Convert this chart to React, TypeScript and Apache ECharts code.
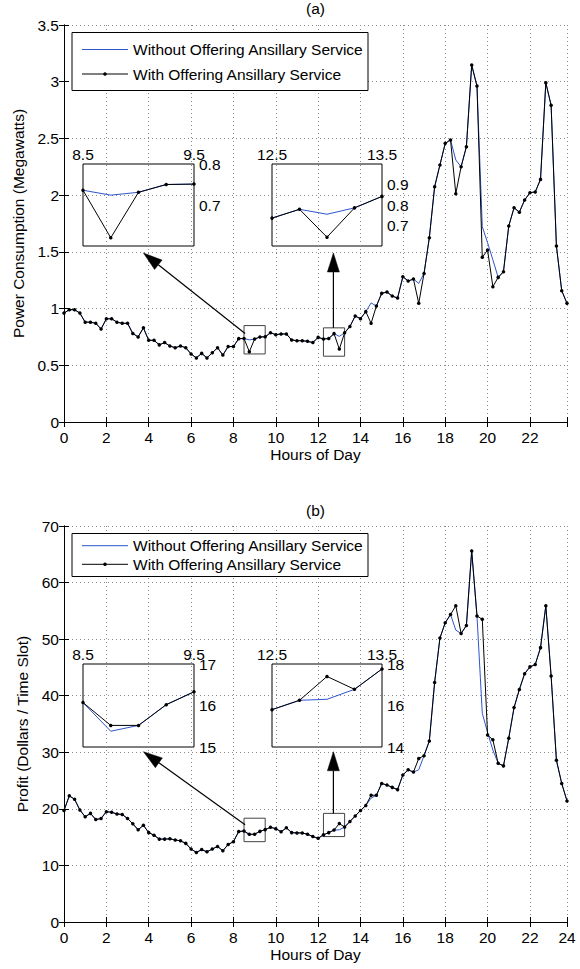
import React, { useEffect, useRef } from "react";
import * as echarts from "echarts";

// ---------------- data ----------------
const HOURS = [
  0, 0.25, 0.5, 0.75, 1, 1.25, 1.5, 1.75, 2, 2.25, 2.5, 2.75,
  3, 3.25, 3.5, 3.75, 4, 4.25, 4.5, 4.75, 5, 5.25, 5.5, 5.75,
  6, 6.25, 6.5, 6.75, 7, 7.25, 7.5, 7.75, 8, 8.25, 8.5, 8.75,
  9, 9.25, 9.5, 9.75, 10, 10.25, 10.5, 10.75, 11, 11.25, 11.5, 11.75,
  12, 12.25, 12.5, 12.75, 13, 13.25, 13.5, 13.75, 14, 14.25, 14.5, 14.75,
  15, 15.25, 15.5, 15.75, 16, 16.25, 16.5, 16.75, 17, 17.25, 17.5, 17.75,
  18, 18.25, 18.5, 18.75, 19, 19.25, 19.5, 19.75, 20, 20.25, 20.5, 20.75,
  21, 21.25, 21.5, 21.75, 22, 22.25, 22.5, 22.75, 23, 23.25, 23.5, 23.75,
];

const POWER_WITH = [
  0.96, 0.99, 0.99, 0.96, 0.88, 0.88, 0.87, 0.82, 0.91, 0.91, 0.88, 0.87,
  0.87, 0.78, 0.75, 0.83, 0.72, 0.72, 0.68, 0.70, 0.67, 0.655, 0.67, 0.655,
  0.60, 0.565, 0.605, 0.565, 0.61, 0.655, 0.59, 0.665, 0.665, 0.735, 0.736, 0.62,
  0.731, 0.75, 0.751, 0.787, 0.77, 0.776, 0.776, 0.723, 0.717, 0.717, 0.711, 0.70,
  0.746, 0.732, 0.736, 0.779, 0.643, 0.786, 0.842, 0.934, 0.911, 0.973, 0.87, 1.022,
  1.134, 1.146, 1.11, 1.093, 1.281, 1.243, 1.26, 1.046, 1.31, 1.625, 2.074, 2.266,
  2.457, 2.487, 2.013, 2.25, 2.427, 3.147, 2.962, 1.452, 1.516, 1.193, 1.275, 1.325,
  1.728, 1.889, 1.85, 1.957, 2.022, 2.028, 2.139, 2.991, 2.792, 1.552, 1.158, 1.046,
];

const POWER_WITHOUT = [
  0.96, 0.99, 0.99, 0.96, 0.88, 0.88, 0.87, 0.82, 0.91, 0.91, 0.88, 0.87,
  0.87, 0.78, 0.75, 0.83, 0.72, 0.72, 0.68, 0.70, 0.67, 0.655, 0.67, 0.655,
  0.60, 0.565, 0.605, 0.565, 0.61, 0.655, 0.59, 0.665, 0.665, 0.735, 0.736, 0.724,
  0.731, 0.75, 0.751, 0.787, 0.77, 0.776, 0.776, 0.723, 0.717, 0.717, 0.711, 0.70,
  0.746, 0.732, 0.736, 0.779, 0.755, 0.786, 0.842, 0.934, 0.911, 0.973, 1.05, 1.022,
  1.134, 1.146, 1.11, 1.093, 1.281, 1.243, 1.26, 1.222, 1.31, 1.625, 2.074, 2.266,
  2.457, 2.487, 2.31, 2.25, 2.427, 3.147, 2.962, 1.722, 1.58, 1.43, 1.275, 1.325,
  1.728, 1.889, 1.85, 1.957, 2.022, 2.028, 2.139, 2.991, 2.792, 1.552, 1.158, 1.046,
];

const PROFIT_WITH = [
  19.7, 22.3, 21.7, 19.8, 18.6, 19.2, 18.1, 18.3, 19.5, 19.4, 19.1, 19.0,
  18.3, 17.35, 16.3, 17.1, 15.8, 15.35, 14.65, 14.65, 14.7, 14.5, 14.35, 13.9,
  12.9, 12.3, 12.8, 12.4, 12.9, 13.35, 12.6, 13.7, 14.2, 16.0, 16.07, 15.52,
  15.52, 16.02, 16.33, 16.75, 16.5, 15.95, 16.65, 15.8, 15.75, 15.75, 15.5, 15.1,
  14.8, 15.4, 15.8, 16.25, 17.4, 16.78, 17.76, 18.75, 19.7, 20.6, 22.4, 22.4,
  24.5, 24.2, 23.8, 23.4, 26.0, 26.9, 26.5, 28.9, 29.4, 32.0, 42.35, 50.2,
  52.9, 54.35, 55.9, 51.0, 52.4, 65.6, 54.1, 53.5, 33.05, 32.2, 28.05, 27.6,
  32.5, 37.9, 41.1, 43.9, 45.1, 45.5, 48.5, 55.9, 43.5, 28.6, 24.5, 21.4,
];

const PROFIT_WITHOUT = [
  19.7, 22.3, 21.7, 19.8, 18.6, 19.2, 18.1, 18.3, 19.5, 19.4, 19.1, 19.0,
  18.3, 17.35, 16.3, 17.1, 15.8, 15.35, 14.65, 14.65, 14.7, 14.5, 14.35, 13.9,
  12.9, 12.3, 12.8, 12.4, 12.9, 13.35, 12.6, 13.7, 14.2, 16.0, 16.07, 15.38,
  15.52, 16.02, 16.33, 16.75, 16.5, 15.95, 16.65, 15.8, 15.75, 15.75, 15.5, 15.1,
  14.8, 15.4, 15.8, 16.25, 16.3, 16.78, 17.76, 18.75, 19.7, 20.6, 21.9, 22.4,
  24.5, 24.2, 23.8, 23.4, 26.0, 26.9, 26.5, 26.9, 29.4, 32.0, 42.35, 50.2,
  52.9, 54.35, 51.6, 51.0, 52.4, 65.6, 54.1, 36.9, 33.5, 30.4, 28.05, 27.6,
  32.5, 37.9, 41.1, 43.9, 45.1, 45.5, 48.5, 55.9, 43.5, 28.6, 24.5, 21.4,
];

const NAME_WITHOUT = "Without Offering Ansillary Service";
const NAME_WITH = "With Offering Ansillary Service";
const TITLE_A = "(a)";
const TITLE_B = "(b)";
const X_NAME = "Hours of Day";
const Y_NAME_A = "Power Consumption (Megawatts)";
const Y_NAME_B = "Profit (Dollars / Time Slot)";

// zoom windows (x range, y range) for the insets
const INSET_A1 = [8.5, 9.5, 0.6, 0.8];
const INSET_A2 = [12.5, 13.5, 0.6, 1.0];
const INSET_B1 = [8.5, 9.5, 15, 17];
const INSET_B2 = [12.5, 13.5, 14, 18];
const INSET_A1_YLABELS = [0.7, 0.8];
const INSET_A2_YLABELS = [0.7, 0.8, 0.9];
const INSET_B1_YLABELS = [15, 16, 17];
const INSET_B2_YLABELS = [14, 16, 18];

// small boxes drawn on the main plots: [x0, x1, y0, y1]
const BOXES_A = [[8.5, 9.5, 0.6, 0.85], [12.25, 13.25, 0.58, 0.83]];
const BOXES_B = [[8.5, 9.5, 14.2, 18.35], [12.25, 13.25, 15.1, 19.2]];
// arrows: [fromX, fromY, toX, toY] in data units
const ARROWS_A = [[8.55, 0.78, 3.75, 1.49], [12.72, 0.83, 12.72, 1.49]];
const ARROWS_B = [[8.55, 17.2, 3.75, 30.1], [12.72, 19.2, 12.72, 30.1]];

// ---------------- styling ----------------
const FONT = "'Liberation Sans', Arial, Helvetica, sans-serif";
const BLUE = "#2f55cc";
const BLACK = "#000000";
const DOT = "#8a8a8a";
const FS = 15.5;

const pair = (ys: number[]) => HOURS.map((h, i) => [h, ys[i]]);

function mainX(grid: number, withLast: boolean) {
  return {
    type: "value", gridIndex: grid, position: "bottom", min: 0, max: 23.75, interval: 2,
    name: X_NAME, nameLocation: "middle", nameGap: 24,
    nameTextStyle: { fontSize: FS, color: BLACK, fontFamily: FONT },
    axisLine: { show: true, lineStyle: { color: BLACK, width: 1 } },
    axisTick: { show: true, inside: true, length: 5, lineStyle: { color: BLACK } },
    axisLabel: {
      show: true, margin: 7, fontSize: FS, color: BLACK, fontFamily: FONT,
      showMaxLabel: true,
      formatter: (v: number) => (v > 23 ? (withLast ? "24" : "") : String(v)),
    },
    splitLine: { show: true, lineStyle: { color: DOT, type: [1, 3], width: 1 } },
  };
}
function mainXTop(grid: number) {
  return {
    type: "value", gridIndex: grid, position: "top", min: 0, max: 23.75, interval: 2,
    axisLine: { show: true, lineStyle: { color: BLACK, width: 1 } },
    axisTick: { show: true, inside: true, length: 5, lineStyle: { color: BLACK } },
    axisLabel: { show: false }, splitLine: { show: false },
  };
}
function mainY(grid: number, max: number, interval: number, name: string) {
  return {
    type: "value", gridIndex: grid, position: "left", min: 0, max, interval,
    name, nameLocation: "middle", nameGap: 34, nameRotate: 90,
    nameTextStyle: { fontSize: FS, color: BLACK, fontFamily: FONT },
    axisLine: { show: true, lineStyle: { color: BLACK, width: 1 } },
    axisTick: { show: true, inside: true, length: 5, lineStyle: { color: BLACK } },
    axisLabel: { show: true, margin: 5, fontSize: FS, color: BLACK, fontFamily: FONT },
    splitLine: { show: true, lineStyle: { color: DOT, type: [1, 3], width: 1 } },
  };
}
function mainYRight(grid: number, max: number, interval: number) {
  return {
    type: "value", gridIndex: grid, position: "right", min: 0, max, interval,
    axisLine: { show: true, lineStyle: { color: BLACK, width: 1 } },
    axisTick: { show: true, inside: true, length: 5, lineStyle: { color: BLACK } },
    axisLabel: { show: false }, splitLine: { show: false },
  };
}
const near = (a: number, b: number) => Math.abs(a - b) < 1e-6;
function insetX(grid: number, win: number[]) {
  const [min, max] = win;
  return {
    type: "value", gridIndex: grid, position: "top", min, max, interval: 0.5,
    axisLine: { show: false }, axisTick: { show: false }, splitLine: { show: false },
    axisLabel: {
      show: true, margin: 2, fontSize: FS, color: BLACK, fontFamily: FONT,
      showMinLabel: true, showMaxLabel: true,
      formatter: (v: number) => (near(v, min) || near(v, max) ? v.toFixed(1) : ""),
    },
  };
}
function insetY(grid: number, win: number[], interval: number, labels: number[]) {
  const [, , min, max] = win;
  return {
    type: "value", gridIndex: grid, position: "right", min, max, interval,
    axisLine: { show: false }, axisTick: { show: false }, splitLine: { show: false },
    axisLabel: {
      show: true, margin: 5, fontSize: FS, color: BLACK, fontFamily: FONT,
      showMinLabel: true, showMaxLabel: true,
      formatter: (v: number) => (labels.some((l) => near(l, v)) ? String(Number(v.toFixed(2))) : ""),
    },
  };
}
function lineSeries(name: string, ys: number[], xi: number, yi: number, black: boolean, extra: any = {}) {
  return {
    type: "line", name, data: pair(ys), xAxisIndex: xi, yAxisIndex: yi,
    symbol: black ? "circle" : "none", symbolSize: 3.5, showSymbol: black,
    clip: true, silent: true, animation: false, z: black ? 4 : 3,
    color: black ? BLACK : BLUE,
    itemStyle: { color: black ? BLACK : BLUE },
    lineStyle: { color: black ? BLACK : BLUE, width: 1 },
    emphasis: { disabled: true },
    ...extra,
  };
}
function boxes(list: number[][]) {
  return {
    silent: true,
    itemStyle: { color: "rgba(0,0,0,0)", borderColor: "#444", borderWidth: 1 },
    data: list.map(([x0, x1, y0, y1]) => [{ coord: [x0, y0] }, { coord: [x1, y1] }]),
  };
}

function buildOption() {
  const gridBase = { show: false, containLabel: false, outerBoundsMode: "none" };
  const insetGrid = { show: true, borderColor: BLACK, borderWidth: 1, backgroundColor: "transparent", containLabel: false, outerBoundsMode: "none" };
  return {
    animation: false,
    backgroundColor: "#ffffff",
    textStyle: { fontFamily: FONT },
    grid: [
      { ...gridBase, left: 64, top: 25, width: 503, height: 397 },
      { ...gridBase, left: 64, top: 526, width: 503, height: 396 },
      { ...insetGrid, left: 83, top: 164, width: 111, height: 82 },
      { ...insetGrid, left: 272, top: 164, width: 110, height: 82 },
      { ...insetGrid, left: 83, top: 664, width: 111, height: 83 },
      { ...insetGrid, left: 272, top: 664, width: 110, height: 83 },
    ],
    xAxis: [
      mainX(0, false), mainXTop(0), mainX(1, true), mainXTop(1),
      insetX(2, INSET_A1), insetX(3, INSET_A2), insetX(4, INSET_B1), insetX(5, INSET_B2),
    ],
    yAxis: [
      mainY(0, 3.5, 0.5, Y_NAME_A), mainYRight(0, 3.5, 0.5),
      mainY(1, 70, 10, Y_NAME_B), mainYRight(1, 70, 10),
      insetY(2, INSET_A1, 0.1, INSET_A1_YLABELS), insetY(3, INSET_A2, 0.1, INSET_A2_YLABELS),
      insetY(4, INSET_B1, 1, INSET_B1_YLABELS), insetY(5, INSET_B2, 2, INSET_B2_YLABELS),
    ],
    series: [
      lineSeries(NAME_WITHOUT, POWER_WITHOUT, 0, 0, false),
      lineSeries(NAME_WITH, POWER_WITH, 0, 0, true, { markArea: boxes(BOXES_A) }),
      lineSeries(NAME_WITHOUT, PROFIT_WITHOUT, 2, 2, false),
      lineSeries(NAME_WITH, PROFIT_WITH, 2, 2, true, { markArea: boxes(BOXES_B) }),
      lineSeries(NAME_WITHOUT, POWER_WITHOUT, 4, 4, false),
      lineSeries(NAME_WITH, POWER_WITH, 4, 4, true),
      lineSeries(NAME_WITHOUT, POWER_WITHOUT, 5, 5, false),
      lineSeries(NAME_WITH, POWER_WITH, 5, 5, true),
      lineSeries(NAME_WITHOUT, PROFIT_WITHOUT, 6, 6, false),
      lineSeries(NAME_WITH, PROFIT_WITH, 6, 6, true),
      lineSeries(NAME_WITHOUT, PROFIT_WITHOUT, 7, 7, false),
      lineSeries(NAME_WITH, PROFIT_WITH, 7, 7, true),
    ],
  };
}

function legendBox(x: number, y: number, w: number, h: number, row1: number, row2: number) {
  const lx1 = x + 10, lx2 = x + 56, tx = x + 61;
  const txt = (ty: number, text: string) => ({
    type: "text", x: tx, y: ty, z: 101, silent: true,
    style: { text, fill: BLACK, fontSize: FS, fontFamily: FONT, align: "left", verticalAlign: "middle" },
  });
  return [
    { type: "rect", z: 100, silent: true, shape: { x, y, width: w, height: h }, style: { fill: "#fff", stroke: BLACK, lineWidth: 1 } },
    { type: "line", z: 101, silent: true, shape: { x1: lx1, y1: row1, x2: lx2, y2: row1 }, style: { stroke: BLUE, lineWidth: 1 } },
    { type: "line", z: 101, silent: true, shape: { x1: lx1, y1: row2, x2: lx2, y2: row2 }, style: { stroke: BLACK, lineWidth: 1 } },
    { type: "circle", z: 102, silent: true, shape: { cx: (lx1 + lx2) / 2, cy: row2, r: 1.8 }, style: { fill: BLACK } },
    txt(row1, NAME_WITHOUT),
    txt(row2, NAME_WITH),
  ];
}

function arrow(chart: any, xi: number, yi: number, a: number[]) {
  const p0 = chart.convertToPixel({ xAxisIndex: xi, yAxisIndex: yi }, [a[0], a[1]]);
  const p1 = chart.convertToPixel({ xAxisIndex: xi, yAxisIndex: yi }, [a[2], a[3]]);
  const dx = p1[0] - p0[0], dy = p1[1] - p0[1];
  const len = Math.hypot(dx, dy) || 1;
  const ux = dx / len, uy = dy / len;
  const HL = 19, HW = 6;
  const bx = p1[0] - ux * HL, by = p1[1] - uy * HL;
  return [
    { type: "line", z: 90, silent: true, shape: { x1: p0[0], y1: p0[1], x2: bx, y2: by }, style: { stroke: BLACK, lineWidth: 1.2 } },
    {
      type: "polygon", z: 90, silent: true,
      shape: { points: [[p1[0], p1[1]], [bx - uy * HW, by + ux * HW], [bx + uy * HW, by - ux * HW]] },
      style: { fill: BLACK, stroke: BLACK, lineWidth: 0.5 },
    },
  ];
}

function buildGraphics(chart: any) {
  const title = (y: number, text: string) => ({
    type: "text", x: 315.5, y, z: 100, silent: true,
    style: { text, fill: BLACK, fontSize: FS, fontFamily: FONT, align: "center", verticalAlign: "middle" },
  });
  return [
    title(8, TITLE_A),
    title(510, TITLE_B),
    ...legendBox(72, 32.5, 296, 58, 49.5, 74),
    ...legendBox(72, 533.5, 296, 43, 545.7, 564.3),
    ...ARROWS_A.flatMap((a) => arrow(chart, 0, 0, a)),
    ...ARROWS_B.flatMap((a) => arrow(chart, 2, 2, a)),
  ];
}

export default function App() {
  const ref = useRef<HTMLDivElement>(null);
  useEffect(() => {
    const el = ref.current;
    if (!el) return;
    const chart = echarts.init(el, null, { renderer: "svg" });
    chart.setOption(buildOption() as any);
    chart.setOption({ graphic: buildGraphics(chart) } as any);
    return () => chart.dispose();
  }, []);
  return (
    <div
      ref={ref}
      style={{ position: "fixed", left: 0, top: 0, width: 580, height: 969, background: "#fff" }}
    />
  );
}
